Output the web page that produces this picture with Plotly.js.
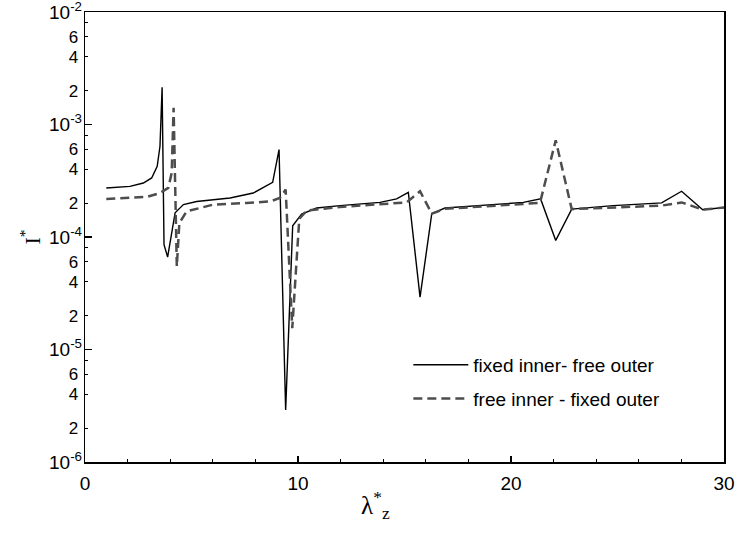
<!DOCTYPE html>
<html>
<head>
<meta charset="utf-8">
<script src="https://cdn.plot.ly/plotly-3.0.1.min.js"></script>
<style>html,body{margin:0;padding:0;background:#fff;}#chart{width:739px;height:536px;}</style>
</head>
<body>
<div id="chart"></div>
<script>
// Series: fixed inner - free outer (solid)
const solidX = [1.0, 2.11, 2.74, 3.13, 3.39, 3.52, 3.62, 3.71, 3.88, 4.23, 4.62, 5.24, 6.81, 7.90, 8.81, 9.11, 9.42, 9.75, 10.17, 10.88, 11.97, 13.85, 14.63, 15.18, 15.73, 16.28, 16.90, 18.54, 20.58, 21.39, 22.10, 22.85, 24.80, 27.07, 28.01, 29.0, 30.0];
const solidY = [2.73e-4, 2.82e-4, 3.02e-4, 3.35e-4, 4.25e-4, 6.40e-4, 2.14e-3, 8.54e-5, 6.64e-5, 1.64e-4, 1.94e-4, 2.07e-4, 2.22e-4, 2.46e-4, 3.06e-4, 5.98e-4, 2.90e-6, 1.26e-4, 1.60e-4, 1.81e-4, 1.90e-4, 2.03e-4, 2.18e-4, 2.49e-4, 2.92e-5, 1.61e-4, 1.81e-4, 1.90e-4, 2.03e-4, 2.18e-4, 9.33e-5, 1.77e-4, 1.90e-4, 2.01e-4, 2.55e-4, 1.75e-4, 1.83e-4];
// Series: free inner - fixed outer (dashed)
const dashX = [1.0, 2.9, 3.52, 3.91, 4.07, 4.16, 4.31, 4.43, 4.77, 6.02, 7.59, 8.69, 9.15, 9.42, 9.73, 10.06, 10.41, 11.97, 15.10, 15.73, 16.28, 16.90, 21.36, 22.10, 22.85, 27.07, 28.01, 29.0, 30.0];
const dashY = [2.18e-4, 2.27e-4, 2.46e-4, 2.73e-4, 3.71e-4, 1.41e-3, 5.47e-5, 1.33e-4, 1.69e-4, 1.94e-4, 2.01e-4, 2.07e-4, 2.22e-4, 2.64e-4, 1.55e-5, 1.45e-4, 1.72e-4, 1.85e-4, 2.03e-4, 2.55e-4, 1.61e-4, 1.78e-4, 2.01e-4, 7.23e-4, 1.77e-4, 1.90e-4, 2.03e-4, 1.75e-4, 1.83e-4];

const seriesNames = ["fixed inner- free outer", "free inner - fixed outer"];

// Tick definitions
const xTickVals = [0, 10, 20, 30];
const xTickText = ["0", "10", "20", "30"];
const decadeExps = [-6, -5, -4, -3, -2];
const labeledMantissas = [2, 4, 6];
const unlabeledMantissas = [8];

const xTitle = "λ<sup>*</sup><sub>z</sub>";
const yTitle = "I<sup>*</sup>";

// Build tick arrays
const decadeVals = decadeExps.map(e => Math.pow(10, e));
const decadeText = decadeExps.map(e => "10<sup>" + e + "</sup>");
const minorVals = [], minorText = [], eightVals = [];
decadeExps.slice(0, -1).forEach(e => {
  labeledMantissas.forEach(m => {
    minorVals.push(m * Math.pow(10, e));
    minorText.push(String(m));
  });
  unlabeledMantissas.forEach(m => eightVals.push(m * Math.pow(10, e)));
});

const sans = "Liberation Sans, Arial, sans-serif";
const serif = "Liberation Serif, Times New Roman, serif";

const traces = [
  {x: solidX, y: solidY, type: "scatter", mode: "lines", name: seriesNames[0],
   legendgroup: "a", line: {color: "#000000", width: 1.4}},
  {x: dashX, y: dashY, type: "scatter", mode: "lines", name: seriesNames[1],
   legendgroup: "b", line: {color: "#4d4d4d", width: 2.5, dash: "9px,5px"}},
  {x: [null], y: [null], type: "scatter", mode: "lines", yaxis: "y2",
   showlegend: false, hoverinfo: "skip"}
];

const layout = {
  width: 739, height: 536,
  margin: {l: 85, r: 15, t: 12, b: 74},
  paper_bgcolor: "#ffffff", plot_bgcolor: "#ffffff",
  showlegend: true,
  legend: {x: 0.506, y: 0.258, xanchor: "left", yanchor: "top",
           bgcolor: "rgba(0,0,0,0)", borderwidth: 0,
           traceorder: "grouped", tracegroupgap: 6, itemwidth: 55,
           font: {family: sans, size: 19, color: "#000"}},
  xaxis: {
    type: "linear", range: [0, 30],
    tickmode: "array", tickvals: xTickVals, ticktext: xTickText,
    ticks: "inside", ticklen: 6, tickwidth: 1.3, tickcolor: "#000",
    minor: {dtick: 2, tick0: 0, ticks: "inside", ticklen: 3, tickwidth: 1, tickcolor: "#000"},
    showline: true, linecolor: "#000", linewidth: 1.5, mirror: true,
    showgrid: false, zeroline: false,
    ticklabelstandoff: 4,
    tickfont: {family: sans, size: 19, color: "#000"}
  },
  yaxis: {
    type: "log", range: [-6, -2],
    tickmode: "array", tickvals: minorVals, ticktext: minorText,
    ticks: "inside", ticklen: 3, tickwidth: 1, tickcolor: "#000",
    minor: {tickmode: "array", tickvals: eightVals, ticks: "inside", ticklen: 3, tickwidth: 1, tickcolor: "#000", showgrid: false},
    showline: true, linecolor: "#000", linewidth: 1.5, mirror: true,
    showgrid: false, zeroline: false,
    ticklabelstandoff: 2,
    tickfont: {family: sans, size: 17, color: "#000"},
    title: {text: yTitle, font: {family: serif, size: 22, color: "#000"}, standoff: 22}
  },
  yaxis2: {
    type: "log", range: [-6, -2], overlaying: "y", side: "left", anchor: "x",
    tickmode: "array", tickvals: decadeVals, ticktext: decadeText,
    ticks: "inside", ticklen: 7, tickwidth: 1.3, tickcolor: "#000",
    showline: false, showgrid: false, zeroline: false,
    ticklabelstandoff: 2, ticklabeloverflow: "allow",
    tickfont: {family: sans, size: 19, color: "#000"}
  },
  annotations: [
    {text: xTitle, xref: "paper", yref: "paper", x: 0.455, y: 0, xanchor: "center", yanchor: "top",
     yshift: -23, showarrow: false, font: {family: serif, size: 25, color: "#000"}}
  ]
};

Plotly.newPlot("chart", traces, layout, {staticPlot: true, displayModeBar: false});
</script>
</body>
</html>
